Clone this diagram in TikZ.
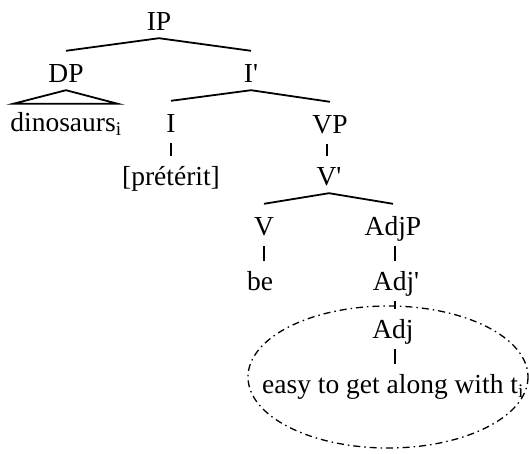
\documentclass[tikz,border=0pt]{standalone}
\usepackage{fontspec}
\setmainfont{Liberation Serif}
\usepackage{tikz}
\newcommand{\xbar}{\textquotesingle}

\begin{document}
\begin{tikzpicture}[
  x=1pt, y=-1pt,
  cat/.style={anchor=base, inner xsep=0pt, inner ysep=3pt,
    text height=18pt, text depth=5pt, font=\fontsize{27.5}{32}\selectfont},
  branch/.style={line width=1.8pt},
  unary/.style={line width=1.8pt, shorten <=3pt, shorten >=8pt},
  trace/.style={line width=1.3pt, dash pattern=on 7pt off 4pt on 1.5pt off 4pt}
]
  \useasboundingbox (0,0) rectangle (529,453);
  \node[cat] (ip) at (159,30) {IP};
  \node[cat] (dp) at (66,82) {DP};
  \node[cat] (ibar) at (251,82) {I\xbar};
  \node[cat] (dino) at (66,131) {dinosaurs\textsubscript{i}};
  \node[cat] (infl) at (171,132) {I};
  \node[cat] (pret) at (171,185) {[prétérit]};
  \node[cat] (vp) at (330,133) {VP};
  \node[cat] (vbar) at (329,185) {V\xbar};
  \node[cat] (verb) at (264,235) {V};
  \node[cat] (adjp) at (393,235) {AdjP};
  \node[cat] (be) at (260,290) {be};
  \node[cat] (adjbar) at (396,290) {Adj\xbar};
  \node[cat] (adj) at (393,338) {Adj};
  \node[cat] (easy) at (393,393) {easy to get along with t\textsubscript{i}};

  \draw[branch] (ip.south) -- ([yshift=10pt]dp.north);
  \draw[branch] (ip.south) -- ([yshift=10pt]ibar.north);
  \draw[branch] (dp.south) -- ([yshift=6pt,xshift=3pt]dino.north west)
    -- ([yshift=6pt,xshift=-4pt]dino.north east) -- cycle;
  \draw[branch] (ibar.south) -- ([yshift=10pt]infl.north);
  \draw[branch] (ibar.south) -- ([yshift=10pt]vp.north);
  \draw[unary] (infl.south) -- (infl.south |- pret.north);
  \draw[unary] ([xshift=-3pt]vp.south) -- ([xshift=-3pt]vp.south |- vbar.north);
  \draw[branch] (vbar.south) -- ([yshift=10pt]verb.north);
  \draw[branch] (vbar.south) -- ([yshift=10pt]adjp.north);
  \draw[unary] (verb.south) -- (verb.south |- be.north);
  \draw[unary] ([xshift=2pt]adjp.south) -- ([xshift=2pt]adjp.south |- adjbar.north);
  \draw[unary] ([xshift=-1pt]adjbar.south) -- ([xshift=-1pt]adjbar.south |- adj.north);
  \draw[unary] ([xshift=2pt]adj.south) -- ([xshift=2pt]adj.south |- easy.north);

  % island
  \draw[trace] (388,377) ellipse [x radius=140, y radius=71];
\end{tikzpicture}
\end{document}
